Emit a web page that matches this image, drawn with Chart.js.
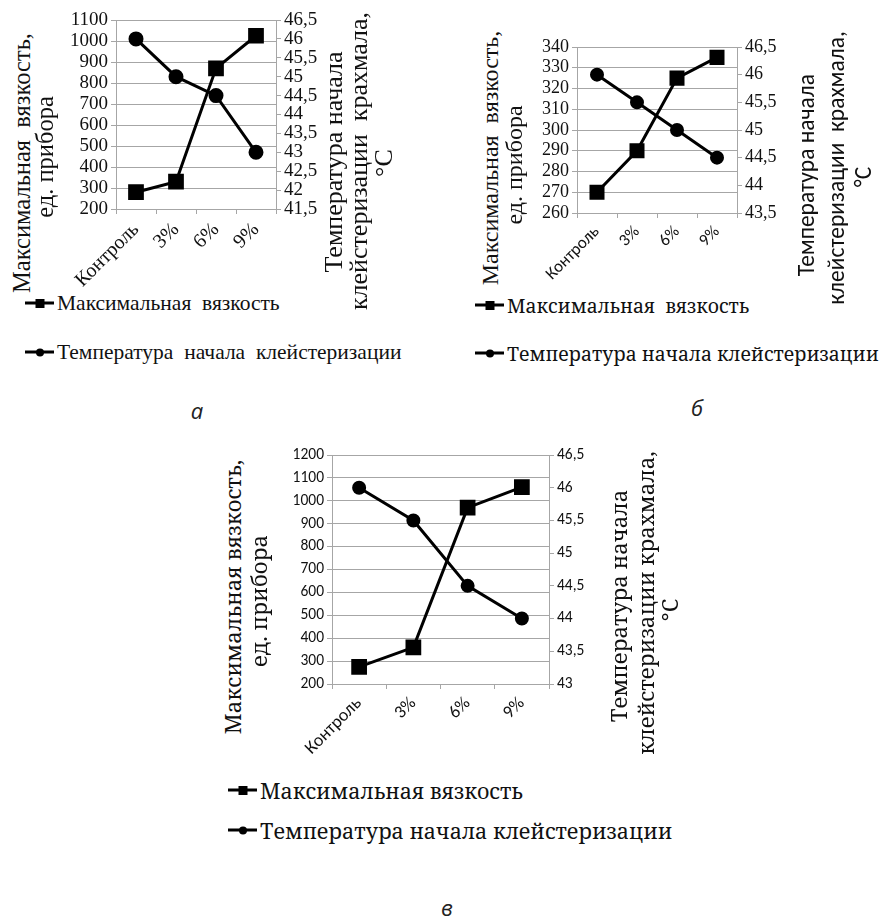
<!DOCTYPE html>
<html>
<head>
<meta charset="utf-8">
<script src="https://cdn.jsdelivr.net/npm/chart.js@4/dist/chart.umd.min.js"></script>
<style>
  body { margin: 0; width: 881px; height: 916px; position: relative; overflow: hidden; background: #fff; color: #111; }
  canvas { position: absolute; }
  .vt { position: absolute; white-space: pre; line-height: 1; transform: translate(-50%, -50%) rotate(-90deg); }
  .lg { position: absolute; white-space: pre; line-height: 1; display: flex; align-items: center; transform: translateY(-50%); }
  .mk { position: relative; width: 29px; height: 3px; background: #000; margin-right: 3px; flex: none; }
  .mk i { position: absolute; left: 50%; top: 50%; transform: translate(-50%, -50%); background: #000; }
  .mk.sq i { width: 9px; height: 9px; }
  .mk.ci i { width: 8px; height: 8px; border-radius: 50%; }
  .letter { position: absolute; font: italic 22px "Open Sans", sans-serif; color: #222; transform: translate(-50%, -50%); }
</style>
</head>
<body>
<canvas id="chart-a" width="280" height="290"></canvas>
<canvas id="chart-b" width="280" height="270"></canvas>
<canvas id="chart-c" width="340" height="340"></canvas>

<script>
// данные — три графика (а, б, в)
const CATEGORIES = ["Контроль", "3%", "6%", "9%"];

// а
const viscA = [280, 330, 870, 1025];
const tempA = [46, 45, 44.5, 43];
const viscAxisA = [200, 1100, 100];   // min, max, шаг
const tempAxisA = [41.5, 46.5, 0.5];

// б
const viscB = [270, 290, 325, 335];
const tempB = [46, 45.5, 45, 44.5];
const viscAxisB = [260, 340, 10];
const tempAxisB = [43.5, 46.5, 0.5];

// в
const viscC = [275, 360, 970, 1060];
const tempC = [46, 45.5, 44.5, 44];
const viscAxisC = [200, 1200, 100];
const tempAxisC = [43, 46.5, 0.5];

const legendA = ["Максимальная  вязкость", "Температура  начала  клейстеризации"];
const legendB = ["Максимальная  вязкость", "Температура начала клейстеризации"];
const legendC = ["Максимальная вязкость", "Температура начала клейстеризации"];

const leftTitleA = ["Максимальная  вязкость,", "ед. прибора"];
const rightTitleA = ["Температура начала", "клейстеризации  крахмала,", "°C"];
const leftTitleC = ["Максимальная вязкость,", "ед. прибора"];
const rightTitleC = ["Температура начала", "клейстеризации крахмала,", "°C"];

const GRID = "#a6a6a6";
const INK = "#111";
const TIMES = '"Liberation Serif", serif';
const CALIBRI = 'Carlito, Lato, sans-serif';
const CAMBRIA = '"Noto Serif", "DejaVu Serif", serif';

const plain = v => String(v);
const comma = v => String(v).replace(".", ",");

function drawPanel(id, box, d) {
  const cv = document.getElementById(id);
  cv.style.left = box.x + "px";
  cv.style.top = box.y + "px";
  const line = { borderColor: "#000", backgroundColor: "#000", borderWidth: 3, tension: 0 };
  new Chart(cv, {
    type: "line",
    data: {
      labels: CATEGORIES,
      datasets: [
        { ...line, label: d.legend[0], data: d.visc, yAxisID: "y", pointStyle: "rect", pointRadius: d.sq },
        { ...line, label: d.legend[1], data: d.temp, yAxisID: "y1", pointStyle: "circle", pointRadius: d.ci },
      ],
    },
    options: {
      responsive: false,
      animation: false,
      layout: { padding: { top: box.pt, left: 0, right: 0, bottom: 0 } },
      plugins: { legend: { display: false }, tooltip: { enabled: false } },
      scales: {
        x: {
          offset: true,
          grid: { offset: true, drawOnChartArea: false, color: GRID, tickLength: 5 },
          border: { color: GRID },
          ticks: { minRotation: 45, maxRotation: 45, autoSkip: false, padding: box.xpad, color: INK, font: d.catFont },
          afterFit: s => { s.height = box.hx; s.paddingLeft = 0; s.paddingRight = 0; },
        },
        y: {
          position: "left",
          min: d.viscAxis[0], max: d.viscAxis[1],
          ticks: { stepSize: d.viscAxis[2], autoSkip: false, padding: 3, color: INK, font: d.tickFont, callback: plain },
          grid: { color: GRID, tickLength: 5 },
          border: { color: GRID },
          afterFit: s => { s.width = box.wl; s.paddingTop = 0; s.paddingBottom = 0; },
        },
        y1: {
          position: "right",
          min: d.tempAxis[0], max: d.tempAxis[1],
          ticks: { stepSize: d.tempAxis[2], autoSkip: false, padding: 3, color: INK, font: d.tickFont, callback: comma },
          grid: { drawOnChartArea: false, color: GRID, tickLength: 5 },
          border: { color: GRID },
          afterFit: s => { s.width = box.wr; s.paddingTop = 0; s.paddingBottom = 0; },
        },
      },
    },
  });
}

function vtext(txt, cx, cy, font) {
  const el = document.createElement("div");
  el.className = "vt";
  el.textContent = txt;
  el.style.font = font;
  el.style.left = cx + "px";
  el.style.top = cy + "px";
  document.body.appendChild(el);
}

function legendRow(txt, shape, x, cy, font) {
  const el = document.createElement("div");
  el.className = "lg";
  el.style.left = x + "px";
  el.style.top = cy + "px";
  el.style.font = font;
  el.innerHTML = `<span class="mk ${shape}"><i></i></span><span></span>`;
  el.lastChild.textContent = txt;
  document.body.appendChild(el);
}

function letter(txt, cx, cy) {
  const el = document.createElement("div");
  el.className = "letter";
  el.textContent = txt;
  el.style.left = cx + "px";
  el.style.top = cy + "px";
  document.body.appendChild(el);
}

// а
drawPanel("chart-a", { x: 50, y: 0, pt: 20, wl: 66, wr: 54, hx: 81, xpad: 4 }, {
  visc: viscA, temp: tempA, viscAxis: viscAxisA, tempAxis: tempAxisA, legend: legendA, sq: 9, ci: 6,
  tickFont: { family: TIMES, size: 19 }, catFont: { family: TIMES, size: 20 },
});
vtext(leftTitleA[0], 22, 163, `24.5px ${TIMES}`);
vtext(leftTitleA[1], 45, 157, `24.5px ${TIMES}`);
vtext(rightTitleA[0], 334, 162, `26px ${TIMES}`);
vtext(rightTitleA[1], 359, 161, `26px ${TIMES}`);
vtext(rightTitleA[2], 384, 163, `26px ${TIMES}`);
legendRow(legendA[0], "sq", 25, 303, `21.5px ${TIMES}`);
legendRow(legendA[1], "ci", 25, 352, `21.5px ${TIMES}`);
letter("а", 197, 410);

// б
drawPanel("chart-b", { x: 520, y: 20, pt: 27, wl: 57, wr: 63, hx: 77, xpad: 4 }, {
  visc: viscB, temp: tempB, viscAxis: viscAxisB, tempAxis: tempAxisB, legend: legendB, sq: 8.5, ci: 5.5,
  tickFont: { family: TIMES, size: 18 }, catFont: { family: CALIBRI, size: 17 },
});
vtext(leftTitleA[0], 490, 158, `24px ${TIMES}`);
vtext(leftTitleA[1], 514, 165, `24px ${TIMES}`);
vtext(rightTitleA[0], 806, 175, `23.5px ${CALIBRI}`);
vtext(rightTitleA[1], 836, 168, `23.5px ${CALIBRI}`);
vtext(rightTitleA[2], 863, 177, `23.5px ${CALIBRI}`);
legendRow(legendB[0], "sq", 475, 305, `19.4px ${CAMBRIA}`);
legendRow(legendB[1], "ci", 475, 353, `19.4px ${CAMBRIA}`);
letter("б", 697, 407);

// в
drawPanel("chart-c", { x: 270, y: 435, pt: 20, wl: 62, wr: 61, hx: 91, xpad: 4 }, {
  visc: viscC, temp: tempC, viscAxis: viscAxisC, tempAxis: tempAxisC, legend: legendC, sq: 9, ci: 5.5,
  tickFont: { family: CALIBRI, size: 15.5 }, catFont: { family: CALIBRI, size: 18 },
});
vtext(leftTitleC[0], 232, 597, `22px ${CAMBRIA}`);
vtext(leftTitleC[1], 258, 601, `22px ${CAMBRIA}`);
vtext(rightTitleC[0], 618, 606, `22px ${CAMBRIA}`);
vtext(rightTitleC[1], 645, 603, `22px ${CAMBRIA}`);
vtext(rightTitleC[2], 669, 610, `22px ${CAMBRIA}`);
legendRow(legendC[0], "sq", 228, 790, `21.5px ${CAMBRIA}`);
legendRow(legendC[1], "ci", 228, 830, `21.5px ${CAMBRIA}`);
letter("в", 447, 907);
</script>
</body>
</html>
